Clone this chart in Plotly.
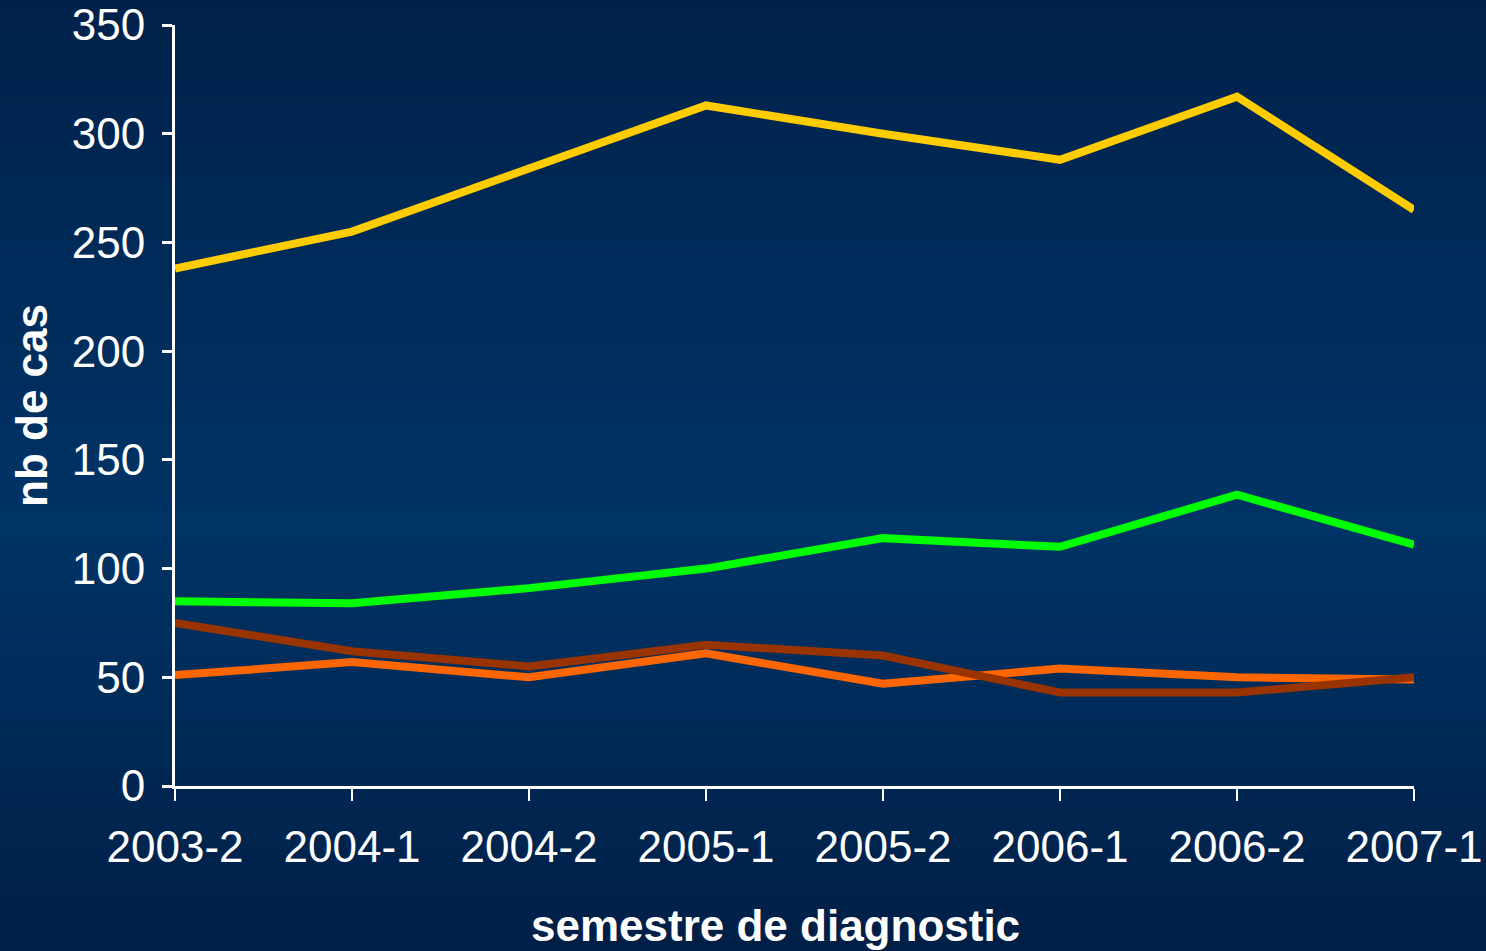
import plotly.graph_objects as go

semestres = ['2003-2', '2004-1', '2004-2', '2005-1', '2005-2', '2006-1', '2006-2', '2007-1']
serie_jaune = [238, 255, 284, 313, 300, 288, 317, 265]
serie_verte = [85, 84, 91, 100, 114, 110, 134, 111]
serie_brune = [75, 62, 55, 65, 60, 43, 43, 50]
serie_orange = [51, 57, 50, 61, 47, 54, 50, 49]
y_ticks = [0, 50, 100, 150, 200, 250, 300, 350]

FONT = 'Liberation Sans, Arial, sans-serif'
W, H = 1486, 951
ML, MR, MT, MB = 175, 72, 25, 165

fig = go.Figure()

xs = list(range(len(semestres)))
for vals, col in [(serie_orange, '#FF6600'), (serie_brune, '#993300'),
                  (serie_verte, '#00FF00'), (serie_jaune, '#FFCC00')]:
    fig.add_trace(go.Scatter(x=xs, y=vals, mode='lines', cliponaxis=False,
                             line=dict(color=col, width=8), hoverinfo='skip'))

# background gradient: dark top/bottom, lighter navy in the middle
def mix(c1, c2, t):
    return 'rgb({},{},{})'.format(*[round(a + (b - a) * t) for a, b in zip(c1, c2)])

top = (0, 33, 74)
mid = (0, 52, 102)
bot = (0, 31, 70)
pw = W - ML - MR
ph = H - MT - MB
y_top = 1 + MT / ph
y_bot = -MB / ph
n = 80
shapes = []
for i in range(n):
    t0 = i / n
    t1 = (i + 1) / n
    t = (i + 0.5) / n
    if t < 0.55:
        c = mix(top, mid, t / 0.55)
    else:
        c = mix(mid, bot, (t - 0.55) / 0.45)
    ya = y_top - (y_top - y_bot) * t0
    yb = y_top - (y_top - y_bot) * t1
    shapes.append(dict(type='rect', xref='paper', yref='paper',
                       x0=-ML / pw - 0.01, x1=1 + MR / pw + 0.01,
                       y0=yb - 0.001, y1=ya + (0.01 if i == 0 else 0),
                       fillcolor=c, line=dict(width=0), layer='below'))

# x title sits a bit left of the plot centre in the original
fig.add_annotation(text='<b>semestre de diagnostic</b>', xref='paper', yref='paper',
                   x=(775 - ML) / pw, y=-(925 - (H - MB)) / ph, xanchor='center', yanchor='middle',
                   showarrow=False, font=dict(family=FONT, size=44, color='white'))

fig.update_layout(
    width=W, height=H,
    margin=dict(l=ML, r=MR, t=MT, b=MB, autoexpand=False),
    paper_bgcolor='#00214a', plot_bgcolor='rgba(0,0,0,0)',
    showlegend=False,
    shapes=shapes,
    font=dict(family=FONT, color='white', size=44),
    xaxis=dict(range=[0, 7], tickvals=xs, ticktext=semestres, showgrid=False, zeroline=False,
               showline=True, linecolor='white', linewidth=3, ticks='outside', ticklen=12,
               tickwidth=2, tickcolor='white', tickfont=dict(size=44), ticklabelstandoff=8,
               automargin=False),
    yaxis=dict(range=[0, 350], tickvals=y_ticks, showgrid=False, zeroline=False,
               showline=True, linecolor='white', linewidth=3, ticks='outside', ticklen=10,
               tickwidth=3, tickcolor='white', tickfont=dict(size=44), ticklabelstandoff=8,
               automargin=False,
               title=dict(text='<b>nb de cas</b>', font=dict(size=44), standoff=11)),
)

fig.write_html('out.html', config={'displayModeBar': False},
               post_script="document.body.style.margin='0';")
